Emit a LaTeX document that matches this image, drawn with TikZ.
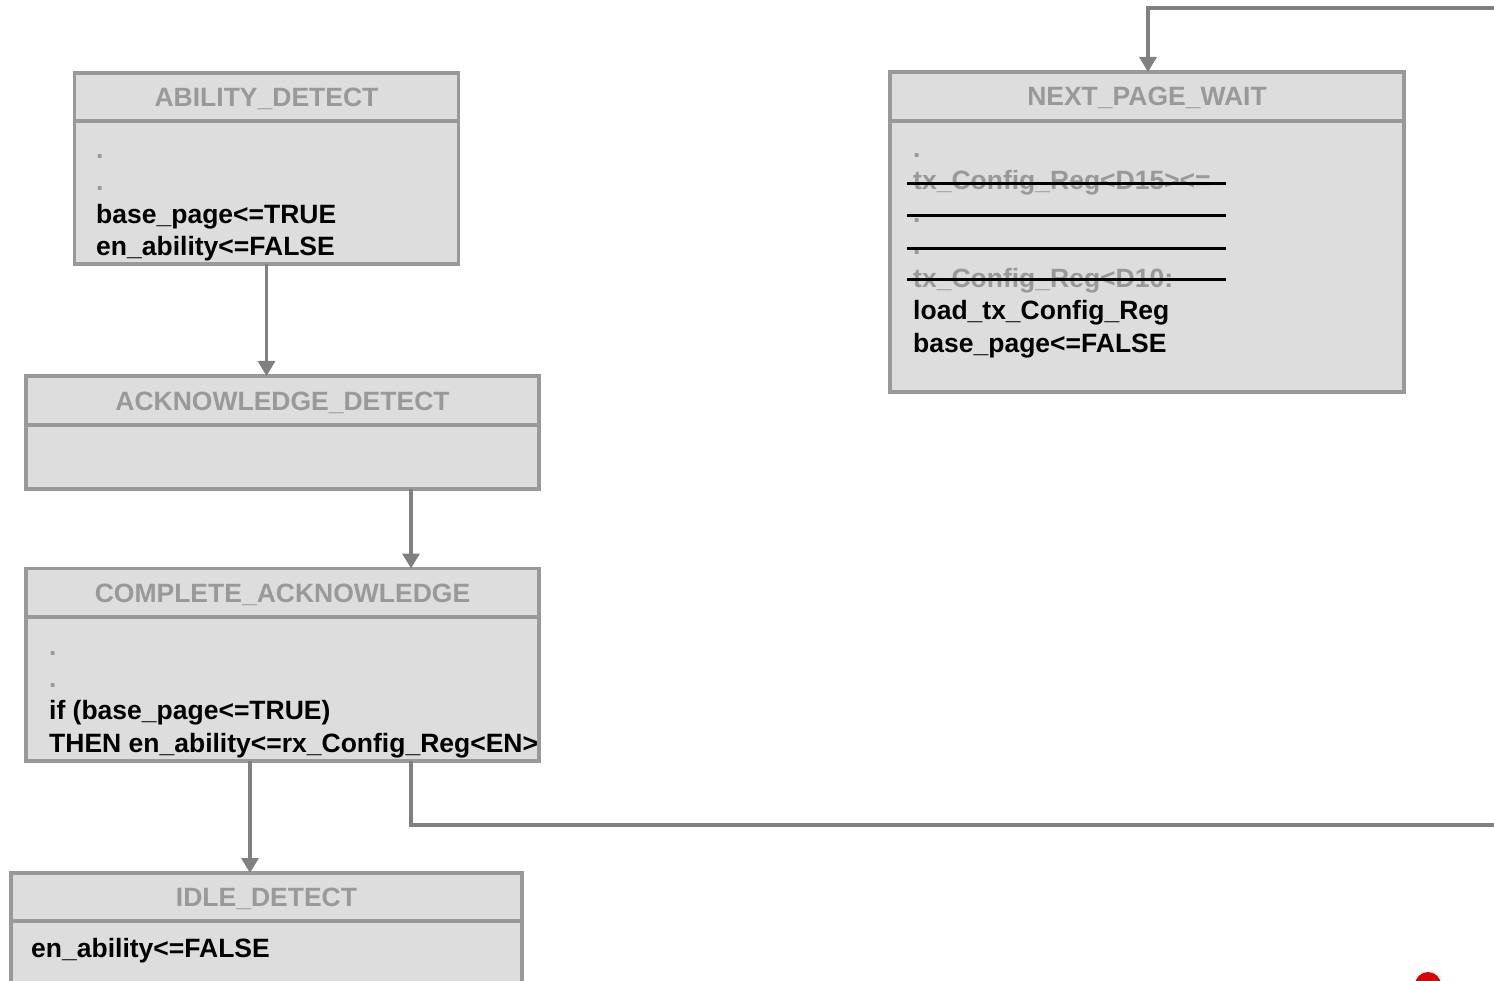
\documentclass[tikz,border=0pt]{standalone}
\usepackage{fontspec}
\setmainfont{Liberation Sans}
\usetikzlibrary{arrows.meta,calc}
\definecolor{boxfill}{HTML}{DDDDDD}
\definecolor{boxline}{HTML}{999999}
\definecolor{titlegrey}{HTML}{999999}
\definecolor{wire}{HTML}{808080}
\definecolor{dotred}{HTML}{DD0000}

\begin{document}
\begin{tikzpicture}[x=1pt,y=-1pt,
  font=\fontsize{26.5}{32.5}\selectfont\bfseries,
  part/.style={draw=boxline, fill=boxfill, line width=3.5pt, inner sep=0pt,
               outer sep=0pt, anchor=north west},
  title/.style={text=titlegrey, anchor=base, inner sep=0pt},
  codeline/.style={anchor=base west, inner sep=0pt, text=black},
  faint/.style={codeline, text=titlegrey},
  conn/.style={draw=wire, line width=3.2pt, -{Triangle[width=17pt,length=15pt]}},
  wirestyle/.style={draw=wire, line width=3.2pt},
  strike/.style={draw=black, line width=3pt}]

\useasboundingbox (0,0) rectangle (1494,981);
\clip (0,0) rectangle (1494,981);

% ABILITY_DETECT
\node[part, minimum width=384pt, minimum height=48pt] (adH) at (74.5,73) {};
\node[part, minimum width=384pt, minimum height=143pt] (adB) at (adH.south west) {};
\node[title] (adT) at ([yshift=-9.5pt]adH.center) {ABILITY\_DETECT};
\node[faint]    (ad1) at (96,158.5) {.};
\node[faint]    (ad2) at (96,191)   {.};
\node[codeline] (ad3) at (96,223.5) {base\_page<=TRUE};
\node[codeline] (ad4) at (96,256)   {en\_ability<=FALSE};

% ACKNOWLEDGE_DETECT
\node[part, minimum width=513pt, minimum height=49pt] (akH) at (26,376) {};
\node[part, minimum width=513pt, minimum height=64pt] (akB) at (akH.south west) {};
\node[title] (akT) at ([yshift=-9.5pt]akH.center) {ACKNOWLEDGE\_DETECT};

% COMPLETE_ACKNOWLEDGE
\node[part, minimum width=513pt, minimum height=48.5pt] (caH) at (26,568.5) {};
\node[part, minimum width=513pt, minimum height=144pt] (caB) at (caH.south west) {};
\node[title] (caT) at ([yshift=-9.5pt]caH.center) {COMPLETE\_ACKNOWLEDGE};
\node[faint]    (ca1) at (49,655)   {.};
\node[faint]    (ca2) at (49,687)   {.};
\node[codeline] (ca3) at (49,719.5) {if (base\_page<=TRUE)};
\node[codeline] (ca4) at (49,752)   {THEN en\_ability<=rx\_Config\_Reg<EN>};

% IDLE_DETECT
\node[part, minimum width=511pt, minimum height=48pt] (idH) at (11,873) {};
\node[part, minimum width=511pt, minimum height=100pt] (idB) at (idH.south west) {};
\node[title] (idT) at ([yshift=-9.5pt]idH.center) {IDLE\_DETECT};
\node[codeline] (id1) at (31,957) {en\_ability<=FALSE};

% NEXT_PAGE_WAIT
\node[part, minimum width=514pt, minimum height=49pt] (npH) at (890,72) {};
\node[part, minimum width=514pt, minimum height=271pt] (npB) at (npH.south west) {};
\node[title] (npT) at ([yshift=-9.5pt]npH.center) {NEXT\_PAGE\_WAIT};
\node[faint]    (np1) at (913,157.5) {.};
\node[faint]    (np2) at (913,190)   {tx\_Config\_Reg<D15><=};
\node[faint]    (np3) at (913,222.5) {.};
\node[faint]    (np4) at (913,255)   {.};
\node[faint]    (np5) at (913,287.5) {tx\_Config\_Reg<D10:};
\node[codeline] (np6) at (913,320)   {load\_tx\_Config\_Reg};
\node[codeline] (np7) at (913,352.5) {base\_page<=FALSE};
% struck-out register lines
\draw[strike] (907,184) -- (1226,184);
\draw[strike] (907,216) -- (1226,216);
\draw[strike] (907,249) -- (1226,249);
\draw[strike] (907,280) -- (1226,280);

% transitions
\draw[conn] (adB.south) -- (adB.south |- akH.north);
\draw[conn] ([xshift=385pt]akB.south west) -- ([xshift=385pt]caH.north west);
\coordinate (caTap) at ([xshift=224pt]caB.south west);
\draw[conn] (caTap) -- (caTap |- idH.north);
\coordinate (caOut) at ([xshift=385pt]caB.south west);
\coordinate (exitR) at (1494,825);
\draw[wirestyle] (caOut) |- (exitR);
\coordinate (entryR) at (1494,8);
\draw[conn] (entryR) -| ([xshift=258pt]npH.north west);

% marker
\node[circle, fill=dotred, inner sep=0pt, minimum size=26pt] (mark) at (1428,985) {};
\end{tikzpicture}
\end{document}
